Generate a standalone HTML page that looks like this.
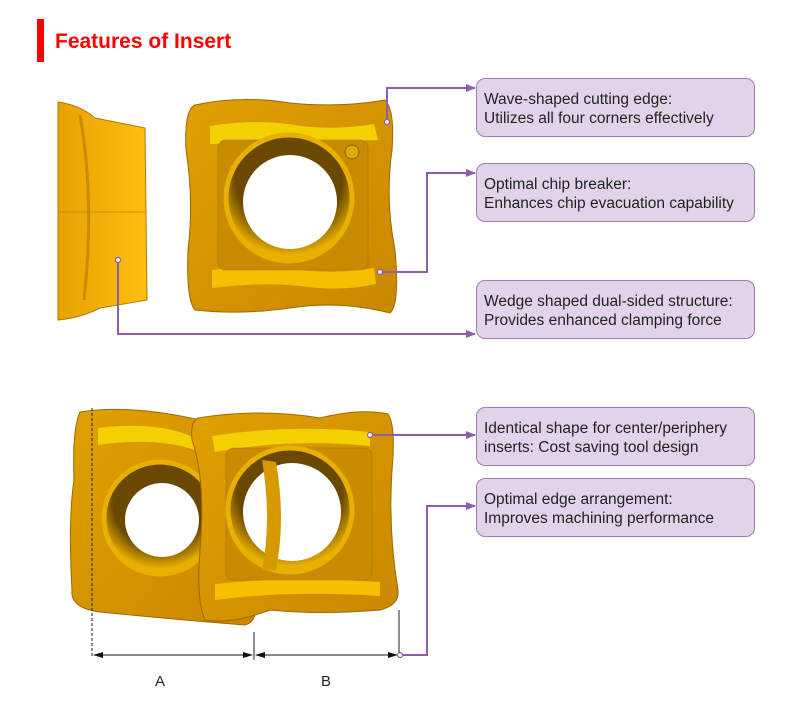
<!DOCTYPE html>
<html><head><meta charset="utf-8"><style>
body{margin:0;background:#fff;width:794px;height:714px;overflow:hidden;position:relative;font-family:"Liberation Sans",sans-serif}
.bar{position:absolute;left:37px;top:19px;width:7px;height:43px;background:#f00}
.t{position:absolute;left:55px;top:30px;font-size:21px;font-weight:bold;color:#f00}
.box{position:absolute;left:476px;width:279px;height:59px;background:#e3d3ea;border:1.5px solid #a07cb6;border-radius:9px;box-sizing:border-box;padding:11px 0 0 7px;font-size:15.5px;line-height:19px;color:#222}
svg{position:absolute;left:0;top:0}
</style></head><body>
<div class="bar"></div><div class="t">Features of Insert</div>
<svg width="794" height="714">
<defs>
<linearGradient id="g" x1="0" y1="0" x2="1" y2="1"><stop offset="0" stop-color="#e0a000"/><stop offset="1" stop-color="#c98800"/></linearGradient>
<linearGradient id="s" x1="0" y1="0" x2="1" y2="0"><stop offset="0" stop-color="#e6a200"/><stop offset="1" stop-color="#ffbe10"/></linearGradient>
<radialGradient id="r" cx="0.5" cy="0.35" r="0.6"><stop offset="0.7" stop-color="#6a4800"/><stop offset="1" stop-color="#e8b000"/></radialGradient>
<marker id="a" markerWidth="10" markerHeight="8" refX="9" refY="4" orient="auto" markerUnits="userSpaceOnUse"><path d="M0,0 L10,4 L0,8z" fill="#8e5ea8"/></marker>
<marker id="k" markerWidth="10" markerHeight="8" refX="9" refY="4" orient="auto" markerUnits="userSpaceOnUse"><path d="M0,1 L10,4 L0,7z" fill="#111"/></marker>
</defs>
<path d="M58,102 Q80,105 95,118 L145,128 L147,300 L100,308 Q80,318 58,320 Z" fill="url(#s)" stroke="#b07800"/>
<path d="M80,115 Q95,200 84,300" fill="none" stroke="#c88a00" stroke-width="3"/>
<line x1="60" y1="212" x2="145" y2="212" stroke="#a07000" stroke-width=".6"/>
<path d="M195,105 Q240,95 290,103 Q340,108 385,100 Q395,110 392,150 Q385,200 395,250 Q400,305 390,313 Q340,300 290,308 Q240,315 195,310 Q186,300 188,250 Q194,200 186,150 Q184,110 195,105Z" fill="url(#g)" stroke="#9a6a00"/>
<path d="M210,126 Q260,118 300,126 Q340,130 374,124 L378,140 L210,144Z" fill="#f5d000"/>
<path d="M212,270 Q260,264 300,270 Q340,274 374,268 L376,284 Q340,292 300,286 Q260,282 212,288Z" fill="#f5c000"/>
<rect x="218" y="140" width="150" height="130" rx="8" fill="#c98c00" stroke="#a87400" stroke-width=".6"/>
<circle cx="289" cy="198" r="63" fill="url(#r)" stroke="#e8b000" stroke-width="5"/>
<circle cx="290" cy="202" r="47" fill="#fff"/>
<circle cx="352" cy="152" r="7" fill="#e0a800" stroke="#8a6000"/>
<path d="M80,412 Q130,404 200,420 Q240,425 250,440 L255,600 Q258,622 245,625 Q180,620 100,612 Q70,608 72,590 Q68,520 74,480 Q72,430 80,412Z" fill="url(#g)" stroke="#9a6a00"/>
<path d="M98,428 Q160,420 200,440 L200,452 Q160,436 98,445Z" fill="#f5d000"/>
<circle cx="160" cy="518" r="56" fill="url(#r)" stroke="#e8b000" stroke-width="5"/>
<circle cx="162" cy="520" r="37" fill="#fff"/>
<path d="M198,418 Q260,408 320,418 Q360,408 388,414 Q396,425 392,470 Q388,530 398,590 Q400,605 380,610 Q320,615 270,610 Q230,625 205,620 Q196,600 200,550 Q206,480 192,440 Q190,422 198,418Z" fill="url(#g)" stroke="#9a6a00"/>
<path d="M212,436 Q290,424 370,432 L370,446 Q290,438 215,452Z" fill="#f5d000"/>
<path d="M215,584 Q290,576 380,582 L380,596 Q290,590 215,600Z" fill="#f5c000"/>
<rect x="226" y="448" width="146" height="132" rx="8" fill="#c98c00" stroke="#a87400" stroke-width=".6"/>
<circle cx="290" cy="510" r="62" fill="url(#r)" stroke="#e8b000" stroke-width="5"/>
<circle cx="292" cy="512" r="49" fill="#fff"/>
<path d="M262,460 Q272,520 262,570 L276,570 Q286,520 276,462Z" fill="#d69a00"/>
<line x1="92" y1="408" x2="92" y2="656" stroke="#222" stroke-dasharray="3,2"/>
<line x1="254" y1="632" x2="254" y2="660" stroke="#222"/>
<line x1="399" y1="610" x2="399" y2="656" stroke="#222"/>
<line x1="94" y1="655" x2="252" y2="655" stroke="#111" marker-end="url(#k)"/>
<line x1="252" y1="655" x2="94" y2="655" stroke="#111" marker-end="url(#k)"/>
<line x1="256" y1="655" x2="397" y2="655" stroke="#111" marker-end="url(#k)"/>
<line x1="397" y1="655" x2="256" y2="655" stroke="#111" marker-end="url(#k)"/>
<text x="160" y="686" font-size="15" text-anchor="middle" fill="#222" font-family="Liberation Sans">A</text>
<text x="326" y="686" font-size="15" text-anchor="middle" fill="#222" font-family="Liberation Sans">B</text>
<g fill="none" stroke="#8e5ea8" stroke-width="2">
<path d="M387,120 V88 H475" marker-end="url(#a)"/>
<path d="M382,272 H427 V173 H475" marker-end="url(#a)"/>
<path d="M118,262 V334 H475" marker-end="url(#a)"/>
<path d="M372,435 H475" marker-end="url(#a)"/>
<path d="M402,655 H427 V506 H475" marker-end="url(#a)"/>
</g>
<g fill="#fff" stroke="#8e5ea8" stroke-width="1.2">
<circle cx="387" cy="122" r="2.5"/><circle cx="380" cy="272" r="2.5"/><circle cx="118" cy="260" r="2.5"/><circle cx="370" cy="435" r="2.5"/><circle cx="400" cy="655" r="2.5"/>
</g>
</svg>
<div class="box" style="top:78px">Wave-shaped cutting edge:<br>Utilizes all four corners effectively</div>
<div class="box" style="top:163px">Optimal chip breaker:<br>Enhances chip evacuation capability</div>
<div class="box" style="top:280px">Wedge shaped dual-sided structure:<br>Provides enhanced clamping force</div>
<div class="box" style="top:407px">Identical shape for center/periphery<br>inserts: Cost saving tool design</div>
<div class="box" style="top:478px">Optimal edge arrangement:<br>Improves machining performance</div>
</body></html>
